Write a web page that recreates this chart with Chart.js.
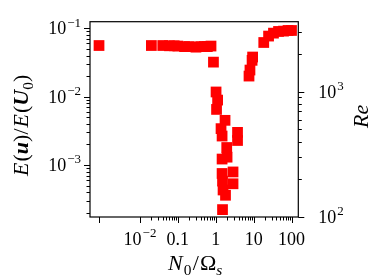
<!DOCTYPE html>
<html>
<head>
<meta charset="utf-8">
<script src="https://cdn.jsdelivr.net/npm/chart.js@4.4.1/dist/chart.umd.min.js"></script>
<style>
  html, body { margin: 0; padding: 0; background: #fff; }
  #wrap { width: 374px; height: 280px; }
</style>
</head>
<body>
<div id="wrap"><canvas id="chart" width="374" height="280"></canvas></div>
<script>
// the N0 = 0 run sits on its own unlabeled tick at the far left
const zeroStandIn = 8.3e-4;

// N0 / Omega_s
const ratioN = [
  zeroStandIn, 0.02, 0.04, 0.06, 0.08, 0.1, 0.15, 0.2, 0.3, 0.4, 0.5, 0.6, 0.75,
  0.87, 1.02, 1.12, 1.05, 1.76, 1.38, 1.47, 3.76, 3.76, 1.95, 1.47, 1.99,
  1.47, 2.86, 1.51, 2.86, 1.56, 1.81, 1.51,
  7.55, 8.0, 9.1, 9.4, 18.5, 24.8, 33.4, 45.4, 61.5, 80.9, 100
];
// E(u) / E(U0)
const energyRatio = [
  0.056, 0.056, 0.056, 0.0555, 0.0555, 0.055, 0.054, 0.054, 0.053, 0.054, 0.054, 0.054, 0.055,
  0.032, 0.0117, 0.0089, 0.0065, 0.0045, 0.0034, 0.00265, 0.0030, 0.00228, 0.0018, 0.00122, 0.0013,
  0.00075, 0.00079, 0.00058, 0.00053, 0.00043, 0.00036, 0.000222,
  0.020, 0.0245, 0.034, 0.038, 0.062, 0.077, 0.085, 0.090, 0.091, 0.093, 0.093
];

const xRange = [4.8e-4, 151];
const yRange = [1.73e-4, 0.125];
const reRange = [100, 3620];

const xTickValues = [zeroStandIn, 0.01, 0.1, 1, 10, 100];
const xTickLabels = ["", "10^−2", "0.1", "1", "10", "100"];
const yTickValues = [0.1, 0.01, 0.001];
const yTickLabels = ["10^−1", "10^−2", "10^−3"];
const reTickValues = [100, 1000];
const reTickLabels = ["10^2", "10^3"];

const FONT = '"Liberation Serif", "DejaVu Serif", serif';

function minorTicks(decades, lo, hi) {
  const out = [];
  decades.forEach((d) => {
    for (let k = 2; k <= 9; k++) {
      const v = d * k;
      if (v > lo && v < hi) out.push(v);
    }
  });
  return out;
}

// "10^−2" -> base with raised exponent
function drawPow(ctx, text, x, baseline, align, size) {
  const parts = text.split("^");
  ctx.font = size + "px " + FONT;
  const wb = ctx.measureText(parts[0]).width;
  let we = 0;
  const es = size * 0.72;
  if (parts[1]) {
    ctx.font = es + "px " + FONT;
    we = ctx.measureText(parts[1]).width + 1;
  }
  const w = wb + we;
  let x0 = x;
  if (align === "center") x0 = x - w / 2;
  if (align === "right") x0 = x - w;
  ctx.textAlign = "left";
  ctx.textBaseline = "alphabetic";
  ctx.font = size + "px " + FONT;
  ctx.fillText(parts[0], x0, baseline);
  if (parts[1]) {
    ctx.font = es + "px " + FONT;
    ctx.fillText(parts[1], x0 + wb + 1, baseline - size * 0.42);
  }
}

// math-like label: [text, style, extra gap] with style r / i / bi / sub / isub
function richFont(style, size) {
  if (style === "i") return "italic " + size + "px " + FONT;
  if (style === "bi") return "italic bold " + size + "px " + FONT;
  if (style === "sub") return size * 0.7 + "px " + FONT;
  if (style === "isub") return "italic " + size * 0.7 + "px " + FONT;
  return size + "px " + FONT;
}

function drawRich(ctx, parts, cx, baseline, size) {
  let w = 0;
  parts.forEach((p) => {
    ctx.font = richFont(p[1], size);
    w += ctx.measureText(p[0]).width + (p[2] || 0);
  });
  let x = cx - w / 2;
  ctx.textAlign = "left";
  ctx.textBaseline = "alphabetic";
  parts.forEach((p) => {
    ctx.font = richFont(p[1], size);
    const dy = p[1] === "sub" || p[1] === "isub" ? size * 0.22 : 0;
    ctx.fillText(p[0], x, baseline + dy);
    x += ctx.measureText(p[0]).width + (p[2] || 0);
  });
}

const axesDecor = {
  id: "axesDecor",
  afterDraw(chart) {
    const { ctx, chartArea: a, scales } = chart;
    ctx.save();
    ctx.strokeStyle = "#000";
    ctx.fillStyle = "#000";
    ctx.lineWidth = 1.2;
    ctx.strokeRect(a.left, a.top, a.right - a.left, a.bottom - a.top);

    const mark = (scale, values, len, side) => {
      values.forEach((v) => {
        const p = Math.round(scale.getPixelForValue(v)) + 0.5;
        ctx.beginPath();
        if (side === "bottom") { ctx.moveTo(p, a.bottom); ctx.lineTo(p, a.bottom + len); }
        if (side === "left") { ctx.moveTo(a.left, p); ctx.lineTo(a.left - len, p); }
        if (side === "right") { ctx.moveTo(a.right, p); ctx.lineTo(a.right + len, p); }
        ctx.stroke();
      });
    };
    ctx.lineWidth = 1;
    mark(scales.x, xTickValues, 6, "bottom");
    mark(scales.x, minorTicks([0.01, 0.1, 1, 10], xRange[0], xRange[1]), 3.5, "bottom");
    mark(scales.y, yTickValues, 6, "left");
    mark(scales.y, minorTicks([1e-4, 1e-3, 1e-2], yRange[0], yRange[1]), 3.5, "left");
    mark(scales.re, reTickValues, 6, "right");
    mark(scales.re, minorTicks([100, 1000], reRange[0], reRange[1]), 3.5, "right");

    const ts = 18;
    xTickValues.forEach((v, i) => {
      if (xTickLabels[i]) drawPow(ctx, xTickLabels[i], scales.x.getPixelForValue(v), a.bottom + 27.5, "center", ts);
    });
    yTickValues.forEach((v, i) => {
      drawPow(ctx, yTickLabels[i], a.left - 9, scales.y.getPixelForValue(v) + ts * 0.33, "right", ts);
    });
    reTickValues.forEach((v, i) => {
      drawPow(ctx, reTickLabels[i], a.right + 20, scales.re.getPixelForValue(v) + ts * 0.33, "left", ts);
    });

    const cx = (a.left + a.right) / 2;
    const cy = (a.top + a.bottom) / 2;
    drawRich(ctx, [["N", "i", 1], ["0", "sub", 1.5], ["/", "r", 1], ["Ω", "r"], ["s", "isub"]], cx + 1, 270, 22);

    ctx.save();
    ctx.translate(28, cy + 6);
    ctx.rotate(-Math.PI / 2);
    drawRich(ctx, [["E", "i", 1], ["(", "r"], ["u", "bi"], [")", "r"], ["/", "r", 1], ["E", "i", 1], ["(", "r"],
      ["U", "bi"], ["0", "sub"], [")", "r"]], 0, 0, 22);
    ctx.restore();

    ctx.save();
    ctx.translate(368, cy - 3);
    ctx.rotate(-Math.PI / 2);
    drawRich(ctx, [["R", "i"], ["e", "i"]], 0, 0, 22);
    ctx.restore();
    ctx.restore();
  },
};

const points = ratioN.map((x, i) => ({ x: x, y: energyRatio[i] }));

const hidden = {
  ticks: { display: false },
  grid: { display: false },
  border: { display: false },
};

new Chart(document.getElementById("chart").getContext("2d"), {
  type: "scatter",
  data: {
    datasets: [
      {
        data: points,
        yAxisID: "y",
        pointStyle: "rect",
        pointRadius: 7.6,
        pointHoverRadius: 7.6,
        backgroundColor: "#ff0000",
        borderWidth: 0,
        clip: false,
      },
    ],
  },
  options: {
    responsive: false,
    animation: false,
    events: [],
    layout: { padding: { top: 21.7, left: 0, right: 0, bottom: 0 } },
    plugins: { legend: { display: false }, tooltip: { enabled: false } },
    scales: {
      x: Object.assign({
        type: "logarithmic", min: xRange[0], max: xRange[1],
        afterFit: (s) => { s.height = 63; },
      }, hidden),
      y: Object.assign({
        type: "logarithmic", position: "left", min: yRange[0], max: yRange[1],
        afterFit: (s) => { s.width = 90; },
      }, hidden),
      re: Object.assign({
        type: "logarithmic", position: "right", min: reRange[0], max: reRange[1],
        afterFit: (s) => { s.width = 75.7; },
      }, hidden),
    },
  },
  plugins: [axesDecor],
});
</script>
</body>
</html>
